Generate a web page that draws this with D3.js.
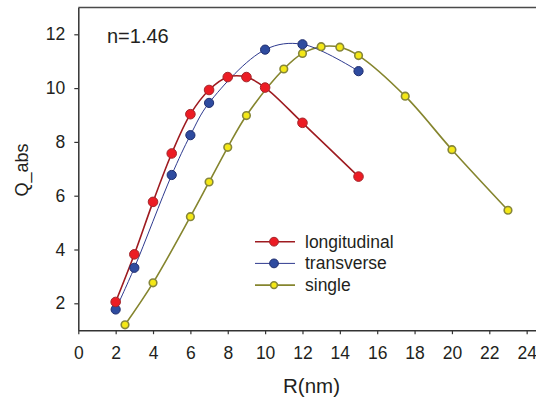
<!DOCTYPE html>
<html>
<head>
<meta charset="utf-8">
<script src="https://cdn.jsdelivr.net/npm/d3@7"></script>
<style>
  html, body { margin: 0; padding: 0; background: #fff; }
  svg { display: block; font-family: "Liberation Sans", Arial, sans-serif; }
</style>
</head>
<body>
<svg id="chart" width="536" height="399"></svg>
<script>
// Absorption efficiency vs. particle radius, n = 1.46
const longitudinalR = [2, 3, 4, 5, 6, 7, 8, 9, 10, 12, 15];
const longitudinalQ = [2.05, 3.82, 5.77, 7.57, 9.03, 9.93, 10.41, 10.41, 10.02, 8.71, 6.71];

const transverseR = [2, 3, 5, 6, 7, 10, 12, 15];
const transverseQ = [1.77, 3.32, 6.77, 8.25, 9.45, 11.43, 11.63, 10.63];

const singleR = [2.5, 4, 6, 7, 8, 9, 11, 12, 13, 14, 15, 17.5, 20, 23];
const singleQ = [1.2, 2.76, 5.22, 6.51, 7.8, 8.98, 10.71, 11.29, 11.54, 11.52, 11.21, 9.7, 7.71, 5.46];

const xTicks = [0, 2, 4, 6, 8, 10, 12, 14, 16, 18, 20, 22, 24];
const yTicks = [2, 4, 6, 8, 10, 12];

const seriesNames = ["longitudinal", "transverse", "single"];

const styles = {
  longitudinal: { line: "#9e1b20", lw: 1.6, fill: "#ec1c24", stroke: "#a3262b", r: 4.8, sw: 1 },
  transverse:   { line: "#2e3a8f", lw: 1.0, fill: "#2e4b9f", stroke: "#1f2d6e", r: 4.6, sw: 1 },
  single:       { line: "#85852e", lw: 1.6, fill: "#f4e816", stroke: "#86863a", r: 3.8, sw: 1.6 }
};

const data = {
  longitudinal: longitudinalR.map((r, i) => ({ r, q: longitudinalQ[i] })),
  transverse: transverseR.map((r, i) => ({ r, q: transverseQ[i] })),
  single: singleR.map((r, i) => ({ r, q: singleQ[i] }))
};

const svg = d3.select("#chart");
const plotLeft = 78.3, plotRight = 536, plotTop = 7.4, plotBottom = 330.2;

const x = d3.scaleLinear().domain([0, 24.5]).range([plotLeft, plotRight]);
const y = d3.scaleLinear().domain([1, 13]).range([plotBottom, plotTop]);

// top frame line
svg.append("line")
  .attr("x1", plotLeft).attr("x2", plotRight)
  .attr("y1", plotTop).attr("y2", plotTop)
  .attr("stroke", "#4a4a4a").attr("stroke-width", 1.5);

// axes
const xAxis = svg.append("g")
  .attr("transform", `translate(0,${plotBottom})`)
  .call(d3.axisBottom(x).tickValues(xTicks).tickSize(4).tickPadding(12).tickSizeOuter(0));
const yAxis = svg.append("g")
  .attr("transform", `translate(${plotLeft},0)`)
  .call(d3.axisLeft(y).tickValues(yTicks).tickSize(4).tickPadding(9).tickSizeOuter(0));

[xAxis, yAxis].forEach(g => {
  g.select(".domain").attr("stroke", "#333").attr("stroke-width", 1.5);
  g.selectAll(".tick line").attr("stroke", "#333").attr("stroke-width", 1.2);
  g.selectAll(".tick text")
    .attr("fill", "#231f20")
    .style("font-size", "17.5px")
    .style("font-family", "'Liberation Sans', Arial, sans-serif");
});

// axis titles
svg.append("text")
  .attr("x", 311.5).attr("y", 393)
  .attr("text-anchor", "middle")
  .attr("fill", "#231f20")
  .style("font-size", "20.5px")
  .text("R(nm)");

svg.append("text")
  .attr("transform", "translate(28,170) rotate(-90)")
  .attr("text-anchor", "middle")
  .attr("fill", "#231f20")
  .style("font-size", "18px")
  .text("Q_abs");

svg.append("text")
  .attr("x", 107).attr("y", 42.5)
  .attr("fill", "#231f20")
  .style("font-size", "20px")
  .text("n=1.46");

// series
const line = d3.line()
  .x(d => x(d.r))
  .y(d => y(d.q))
  .curve(d3.curveCatmullRom.alpha(0.5));

const drawOrder = ["single", "transverse", "longitudinal"];
drawOrder.forEach(name => {
  const s = styles[name];
  svg.append("path")
    .datum(data[name])
    .attr("d", line)
    .attr("fill", "none")
    .attr("stroke", s.line)
    .attr("stroke-width", s.lw);
});
drawOrder.forEach(name => {
  const s = styles[name];
  svg.append("g")
    .selectAll("circle")
    .data(data[name])
    .join("circle")
    .attr("cx", d => x(d.r))
    .attr("cy", d => y(d.q))
    .attr("r", s.r)
    .attr("fill", s.fill)
    .attr("stroke", s.stroke)
    .attr("stroke-width", s.sw);
});

// legend
const legend = svg.append("g").attr("transform", "translate(255,241.7)");
seriesNames.forEach((name, i) => {
  const s = styles[name];
  const g = legend.append("g").attr("transform", `translate(0,${i * 21.7})`);
  g.append("line")
    .attr("x1", 0).attr("x2", 40)
    .attr("stroke", s.line).attr("stroke-width", s.lw);
  g.append("circle")
    .attr("cx", 19).attr("cy", 0)
    .attr("r", name === "single" ? 3.4 : 4.4)
    .attr("fill", s.fill).attr("stroke", s.stroke).attr("stroke-width", s.sw);
  g.append("text")
    .attr("x", 50).attr("y", 6)
    .attr("fill", "#231f20")
    .style("font-size", "17.5px")
    .text(name);
});
</script>
</body>
</html>
